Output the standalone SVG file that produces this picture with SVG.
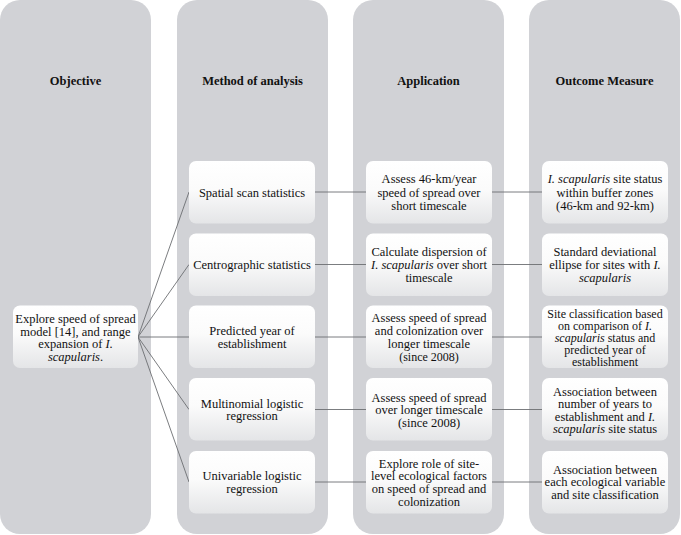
<svg xmlns="http://www.w3.org/2000/svg" width="681" height="535" viewBox="0 0 681 535">
<defs>
<linearGradient id="g" x1="0" y1="0" x2="0" y2="1">
<stop offset="0" stop-color="#ffffff"/>
<stop offset="0.45" stop-color="#fbfbfb"/>
<stop offset="1" stop-color="#e4e5e7"/>
</linearGradient>
<style>
.col{fill:#d1d2d6}
.box{fill:url(#g)}
.h{font-size:12.5px;font-weight:bold;fill:#111;text-anchor:middle}
.t{font-size:12.5px;fill:#111;text-anchor:middle}
.s{font-size:12px}
.i{font-style:italic}
.c{stroke:#6c6e72;stroke-width:0.9;fill:none}
</style>
</defs>
<rect width="681" height="535" fill="#ffffff"/>
<g font-family="'Liberation Serif', Tinos, 'Times New Roman', 'DejaVu Serif', serif">
<g id="col-objective"><rect class="col" x="0" y="0" width="151" height="534" rx="20"/><text class="h" x="75.5" y="84.5">Objective</text></g>
<g id="col-method"><rect class="col" x="177" y="0" width="151" height="534" rx="20"/><text class="h" x="252.5" y="84.5">Method of analysis</text></g>
<g id="col-application"><rect class="col" x="353" y="0" width="151" height="534" rx="20"/><text class="h" x="428.5" y="84.5">Application</text></g>
<g id="col-outcome"><rect class="col" x="529" y="0" width="151" height="534" rx="20"/><text class="h" x="604.5" y="84.5">Outcome Measure</text></g>

<g id="connectors">
<path class="c" d="M138 337 L189 192 M138 337 L189 264.5 M138 337 L189 337 M138 337 L189 409.5 M138 337 L189 482"/>
<path class="c" d="M315 192 H366 M315 264.5 H366 M315 337 H366 M315 409.5 H366 M315 482 H366"/>
<path class="c" d="M492 192 H542 M492 264.5 H542 M492 337 H542 M492 409.5 H542 M492 482 H542"/>
</g>

<g id="objective"><rect class="box" x="13" y="305.5" width="125" height="62.5" rx="7"/>
<text class="t"><tspan x="75.5" y="322.5">Explore speed of spread</tspan><tspan x="75.5" y="335.5">model [14], and range</tspan><tspan x="75.5" y="348.2">expansion of <tspan class="i">I.</tspan></tspan><tspan x="75.5" y="361" class="i">scapularis</tspan><tspan>.</tspan></text>
</g>

<g id="m1"><rect class="box" x="189" y="161" width="126" height="62.5" rx="7"/><text class="t" x="252" y="196.5">Spatial scan statistics</text></g>
<g id="m2"><rect class="box" x="189" y="233.5" width="126" height="62.5" rx="7"/><text class="t" x="252" y="269">Centrographic statistics</text></g>
<g id="m3"><rect class="box" x="189" y="305.5" width="126" height="62.5" rx="7"/><text class="t"><tspan x="252" y="335.2">Predicted year of</tspan><tspan x="252" y="348">establishment</tspan></text></g>
<g id="m4"><rect class="box" x="189" y="378" width="126" height="62.5" rx="7"/><text class="t"><tspan x="252" y="407.5">Multinomial logistic</tspan><tspan x="252" y="420.2">regression</tspan></text></g>
<g id="m5"><rect class="box" x="189" y="451" width="126" height="62.5" rx="7"/><text class="t"><tspan x="252" y="480">Univariable logistic</tspan><tspan x="252" y="492.5">regression</tspan></text></g>

<g id="a1"><rect class="box" x="366" y="161" width="126" height="62.5" rx="7"/>
<text class="t"><tspan x="429" y="183.3">Assess 46-km/year</tspan><tspan x="429" y="196.5">speed of spread over</tspan><tspan x="429" y="209.8">short timescale</tspan></text></g>
<g id="a2"><rect class="box" x="366" y="233.5" width="126" height="62.5" rx="7"/>
<text class="t"><tspan x="429" y="256">Calculate dispersion of</tspan><tspan x="429" y="269.2"><tspan class="i">I. scapularis</tspan> over short</tspan><tspan x="429" y="282">timescale</tspan></text></g>
<g id="a3"><rect class="box" x="366" y="305.5" width="126" height="62.5" rx="7"/>
<text class="t"><tspan x="429" y="322">Assess speed of spread</tspan><tspan x="429" y="335.2">and colonization over</tspan><tspan x="429" y="348.2">longer timescale</tspan><tspan x="429" y="360.5" class="s">(since 2008)</tspan></text></g>
<g id="a4"><rect class="box" x="366" y="378" width="126" height="62.5" rx="7"/>
<text class="t"><tspan x="429" y="401.5">Assess speed of spread</tspan><tspan x="429" y="414.2">over longer timescale</tspan><tspan x="429" y="426.6">(since 2008)</tspan></text></g>
<g id="a5"><rect class="box" x="366" y="451" width="126" height="62.5" rx="7"/>
<text class="t"><tspan x="429" y="467.5">Explore role of site-</tspan><tspan x="429" y="480.2">level ecological factors</tspan><tspan x="429" y="492.8">on speed of spread and</tspan><tspan x="429" y="505.8">colonization</tspan></text></g>

<g id="o1"><rect class="box" x="542" y="161" width="126" height="62.5" rx="7"/>
<text class="t"><tspan x="605" y="183.3"><tspan class="i">I. scapularis</tspan> site status</tspan><tspan x="605" y="196.5">within buffer zones</tspan><tspan x="605" y="209.5">(46-km and 92-km)</tspan></text></g>
<g id="o2"><rect class="box" x="542" y="233.5" width="126" height="62.5" rx="7"/>
<text class="t"><tspan x="605" y="256">Standard deviational</tspan><tspan x="605" y="269.2">ellipse for sites with <tspan class="i">I.</tspan></tspan><tspan x="605" y="282.2" class="i">scapularis</tspan></text></g>
<g id="o3"><rect class="box" x="542" y="305.5" width="126" height="62.5" rx="7"/>
<text class="t s"><tspan x="605" y="317.5">Site classification based</tspan><tspan x="605" y="329.8">on comparison of <tspan class="i">I.</tspan></tspan><tspan x="605" y="341.8"><tspan class="i">scapularis</tspan> status and</tspan><tspan x="605" y="353.6">predicted year of</tspan><tspan x="605" y="365.8">establishment</tspan></text></g>
<g id="o4"><rect class="box" x="542" y="378" width="126" height="62.5" rx="7"/>
<text class="t"><tspan x="605" y="395.9">Association between</tspan><tspan x="605" y="408.3">number of years to</tspan><tspan x="605" y="420.7">establishment and <tspan class="i">I.</tspan></tspan><tspan x="605" y="433.1"><tspan class="i">scapularis</tspan> site status</tspan></text></g>
<g id="o5"><rect class="box" x="542" y="451" width="126" height="62.5" rx="7"/>
<text class="t"><tspan x="605" y="473.5">Association between</tspan><tspan x="605" y="486.2">each ecological variable</tspan><tspan x="605" y="498.5">and site classification</tspan></text></g>
</g>
</svg>
